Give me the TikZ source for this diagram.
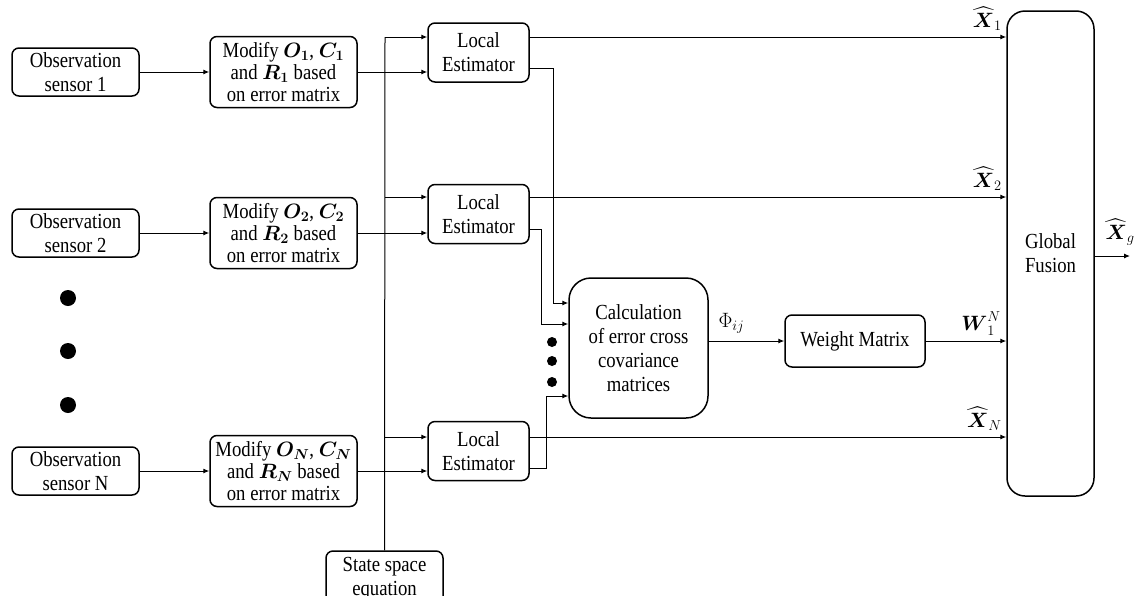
\documentclass[tikz,border=0pt]{standalone}
\usepackage{amsmath}
\usepackage{fontspec}
\setmainfont{Liberation Serif}[FakeStretch=0.87]
\usetikzlibrary{arrows.meta,positioning}
\begin{document}
\begin{tikzpicture}[x=1pt,y=-1pt,
  box/.style={draw, line width=1.5pt, rounded corners=7pt, align=center, inner sep=0pt, font=\fontsize{21.5}{24}\selectfont},
  modbox/.style={box, font=\fontsize{21.5}{22}\selectfont},
  conn/.style={line width=1pt, -{Latex[length=6pt,width=5pt]}},
  wire/.style={line width=1pt},
  lbl/.style={font=\fontsize{20}{22}\selectfont, inner sep=0pt},
  bigdot/.style={fill=black}]
\useasboundingbox (0,0) rectangle (1137,595);
% observation sensors
\node[box, minimum width=127pt, minimum height=48pt] (o1) at (75.5,72) {Observation\\sensor 1};
\node[box, minimum width=127pt, minimum height=48pt] (o2) at (75.5,233) {Observation\\sensor 2};
\node[box, minimum width=127pt, minimum height=48pt] (oN) at (75.5,471) {Observation\\sensor N};
% modify boxes
\node[modbox, minimum width=147pt, minimum height=71pt] (m1) at (283.5,72) {Modify $\boldsymbol{O_1}$, $\boldsymbol{C_1}$\\and $\boldsymbol{R_1}$ based\\on error matrix};
\node[modbox, minimum width=147pt, minimum height=71pt] (m2) at (283.5,233) {Modify $\boldsymbol{O_2}$, $\boldsymbol{C_2}$\\and $\boldsymbol{R_2}$ based\\on error matrix};
\node[modbox, minimum width=147pt, minimum height=71pt] (mN) at (283.5,471) {Modify $\boldsymbol{O_N}$, $\boldsymbol{C_N}$\\and $\boldsymbol{R_N}$ based\\on error matrix};
% local estimators
\node[box, minimum width=101pt, minimum height=59pt] (l1) at (478.5,52.5) {Local\\Estimator};
\node[box, minimum width=101pt, minimum height=59pt] (l2) at (478.5,214) {Local\\Estimator};
\node[box, minimum width=101pt, minimum height=59pt] (lN) at (478.5,451) {Local\\Estimator};
% state space
\node[box, minimum width=117pt, minimum height=56pt] (ss) at (384.5,579) {State space\\equation};
% calculation
\node[box, rounded corners=22pt, minimum width=139pt, minimum height=140pt] (calc) at (638.5,348) {Calculation\\of error cross\\covariance\\matrices};
% weight
\node[box, minimum width=140pt, minimum height=52pt] (wm) at (855,341) {Weight Matrix};
% global fusion
\node[box, rounded corners=18pt, minimum width=87pt, minimum height=485pt] (gf) at (1050.5,253.5) {Global\\Fusion};
% coordinates
\coordinate (bt) at (385,37);
\coordinate (b2) at (385,197);
\coordinate (bN) at (385,437);
\coordinate (k1) at (553,68);
\coordinate (k2) at (541,229);
\coordinate (kN) at (546,468);
\coordinate (c1) at (553,303);
\coordinate (c2) at (541,324);
\coordinate (cN) at (546,396);
\coordinate (xg) at (1130,256);
% sensor -> modify
\draw[conn] (o1) -- (m1);
\draw[conn] (o2) -- (m2);
\draw[conn] (oN) -- (mN);
% modify -> local
\draw[conn] (m1.east) -- (m1.east -| l1.west);
\draw[conn] (m2.east) -- (m2.east -| l2.west);
\draw[conn] (mN.east) -- (mN.east -| lN.west);
% state bus
\draw[wire] (ss.north) -- (bt);
\draw[conn] (bt) -- (bt -| l1.west);
\draw[conn] (b2) -- (b2 -| l2.west);
\draw[conn] (bN) -- (bN -| lN.west);
% local -> global
\draw[conn] (bt -| l1.east) -- (bt -| gf.west) node[lbl, pos=1, above left=6pt and 4pt] {$\widehat{\boldsymbol{X}}_1$};
\draw[conn] (b2 -| l2.east) -- (b2 -| gf.west) node[lbl, pos=1, above left=6pt and 4pt] {$\widehat{\boldsymbol{X}}_2$};
\draw[conn] (bN -| lN.east) -- (bN -| gf.west) node[lbl, pos=1, above left=6pt and 4pt] {$\widehat{\boldsymbol{X}}_N$};
% local -> calc
\draw[conn] (k1 -| l1.east) -- (k1) -- (c1) -- (c1 -| calc.west);
\draw[conn] (k2 -| l2.east) -- (k2) -- (c2) -- (c2 -| calc.west);
\draw[conn] (kN -| lN.east) -- (kN) -- (cN) -- (cN -| calc.west);
% calc -> weight -> global
\draw[conn] (calc.east |- wm.west) -- (wm.west) node[lbl, pos=0.3, above=7pt] {$\Phi_{ij}$};
\draw[conn] (wm.east) -- (wm.east -| gf.west) node[lbl, pos=1, above left=5pt and 5pt] {$\boldsymbol{W}_1^N$};
\draw[conn] (gf.east |- xg) -- (xg) node[lbl, pos=0.72, above=10pt] {$\widehat{\boldsymbol{X}}_g$};
% dots
\fill[bigdot] (68,298) circle (8pt);
\fill[bigdot] (68,351) circle (8pt);
\fill[bigdot] (68,405) circle (8pt);
\fill[bigdot] (552,342) circle (5pt);
\fill[bigdot] (552,361) circle (5pt);
\fill[bigdot] (552,382) circle (5pt);
\end{tikzpicture}
\end{document}
